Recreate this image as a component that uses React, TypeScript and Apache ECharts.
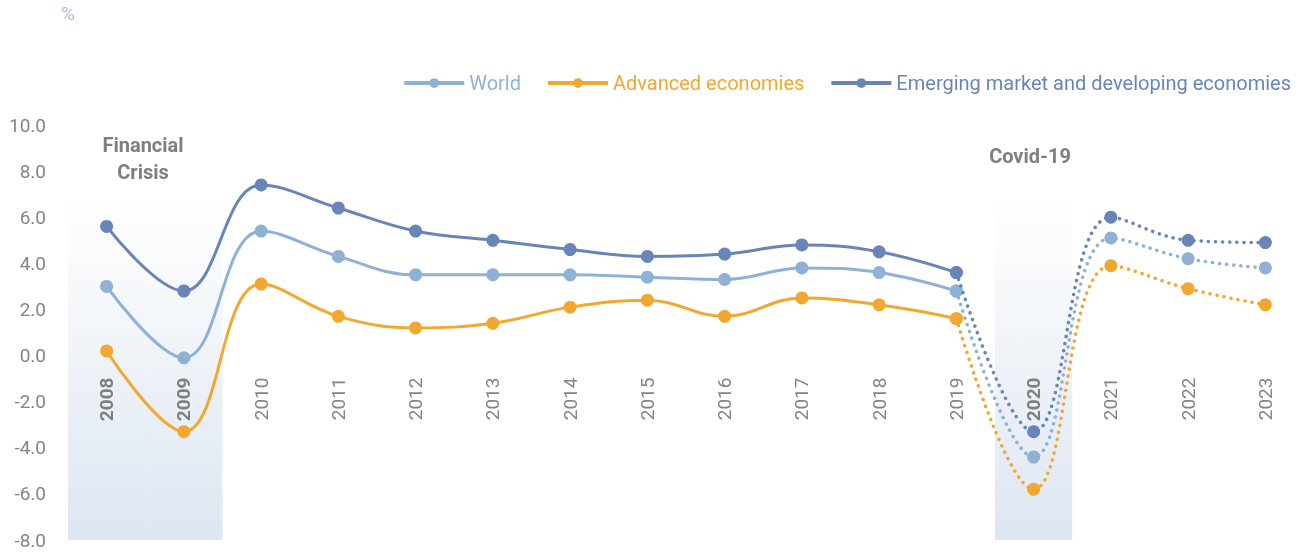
import React, { useEffect, useRef } from "react";
import * as echarts from "echarts";

const years = ["2008","2009","2010","2011","2012","2013","2014","2015","2016","2017","2018","2019","2020","2021","2022","2023"];
const world = [3.0, -0.1, 5.4, 4.3, 3.5, 3.5, 3.5, 3.4, 3.3, 3.8, 3.6, 2.8, -4.4, 5.1, 4.2, 3.8];
const advanced = [0.2, -3.3, 3.1, 1.7, 1.2, 1.4, 2.1, 2.4, 1.7, 2.5, 2.2, 1.6, -5.8, 3.9, 2.9, 2.2];
const emde = [5.6, 2.8, 7.4, 6.4, 5.4, 5.0, 4.6, 4.3, 4.4, 4.8, 4.5, 3.6, -3.3, 6.0, 5.0, 4.9];
const crisisYears = ["2008", "2009", "2020"];
const shadeTop = 7;
const shadeBottom = -8;
const lastActual = "2019";

const names = ["World", "Advanced economies", "Emerging market and developing economies"];
const colors = ["#8fb1d6", "#f2a830", "#6985b8"];
const seriesData = [world, advanced, emde];

const GRID_TOP = 125;
const GRID_BOTTOM = 12;
const CHART_H = 552;
const Y_MIN = -8;
const Y_MAX = 10;

export default function App() {
  const ref = useRef<HTMLDivElement>(null);
  useEffect(() => {
    if (!ref.current) return;
    const chart = echarts.init(ref.current, undefined, { renderer: "svg" });
    const cut = years.indexOf(lastActual);
    const lines: any[] = [];
    seriesData.forEach((d, i) => {
      lines.push({
        name: names[i],
        type: "line",
        data: d.map((v, j) => (j <= cut ? v : "-")),
        smooth: 0.4,
        symbol: "circle",
        symbolSize: 13,
        color: colors[i],
        lineStyle: { width: 3, color: colors[i] },
        itemStyle: { color: colors[i] },
        z: 3 + i,
      });
      lines.push({
        name: names[i],
        type: "line",
        data: d.map((v, j) => (j >= cut ? v : "-")),
        smooth: 0.4,
        symbol: "circle",
        symbolSize: 13,
        color: colors[i],
        lineStyle: { width: 3.5, color: colors[i], type: [0.1, 7], cap: "round" },
        itemStyle: { color: colors[i] },
        z: 3 + i,
      });
    });
    const boldSet = new Set(crisisYears);
    const plotH = CHART_H - GRID_TOP - GRID_BOTTOM;
    const zeroOffset = -(plotH * (0 - Y_MIN)) / (Y_MAX - Y_MIN);
    const shadeGradient = new echarts.graphic.LinearGradient(0, 195, 0, 540, [
      { offset: 0, color: "#ffffff" },
      { offset: 1, color: "#dde6f1" },
    ], true);
    const shadeSeries = (vals: number) => ({
      type: "bar",
      stack: "shade",
      barCategoryGap: 0,
      barWidth: "100%",
      silent: true,
      z: 1,
      data: years.map((y) => (boldSet.has(y) ? vals : "-")),
      itemStyle: { color: shadeGradient },
    });
    chart.setOption({
      animation: false,
      textStyle: { fontFamily: "Roboto" },
      grid: { left: 68, right: 2, top: GRID_TOP, bottom: GRID_BOTTOM, containLabel: false, outerBoundsMode: "none" },
      legend: {
        right: 10,
        top: 68,
        itemWidth: 60,
        itemHeight: 12,
        itemGap: 25,
        lineStyle: { width: 4 },
        data: names.map((n, i) => ({ name: n, textStyle: { color: colors[i], fontSize: 20 } })),
      },
      xAxis: {
        type: "category",
        data: years,
        boundaryGap: true,
        position: "bottom",
        offset: zeroOffset,
        z: 2,
        axisLine: { show: false, onZero: false },
        axisTick: { show: false },
        axisLabel: {
          rotate: 90,
          margin: 22,
          fontSize: 19,
          color: "#858585",
          formatter: (v: string) => (boldSet.has(v) ? `{b|${v}}` : v),
          rich: { b: { fontWeight: "bold", fontSize: 19, color: "#7f7f7f" } },
        },
        splitLine: { show: false },
      },
      yAxis: {
        type: "value",
        min: Y_MIN,
        max: Y_MAX,
        interval: 2,
        axisLine: { show: false },
        axisTick: { show: false },
        splitLine: { show: false },
        axisLabel: { fontSize: 19, color: "#858585", margin: 22, formatter: (v: number) => v.toFixed(1) },
      },
      series: [shadeSeries(shadeTop), shadeSeries(shadeBottom), ...lines],
      graphic: [
        { type: "text", left: 61, top: 4, style: { text: "%", fontSize: 19, fill: "#c9aad8", fontFamily: "Roboto" } },
        {
          type: "text", x: 143, y: 131,
          style: { text: "Financial\nCrisis", fontSize: 20, fontWeight: "bold", fill: "#7f7f7f", align: "center", lineHeight: 27, fontFamily: "Roboto" },
        },
        {
          type: "text", x: 1030, y: 146,
          style: { text: "Covid-19", fontSize: 20, fontWeight: "bold", fill: "#7f7f7f", align: "center", fontFamily: "Roboto" },
        },
      ],
    });
    return () => chart.dispose();
  }, []);
  return <div ref={ref} style={{ position: "fixed", left: 0, top: 0, width: 1306, height: 552 }} />;
}
